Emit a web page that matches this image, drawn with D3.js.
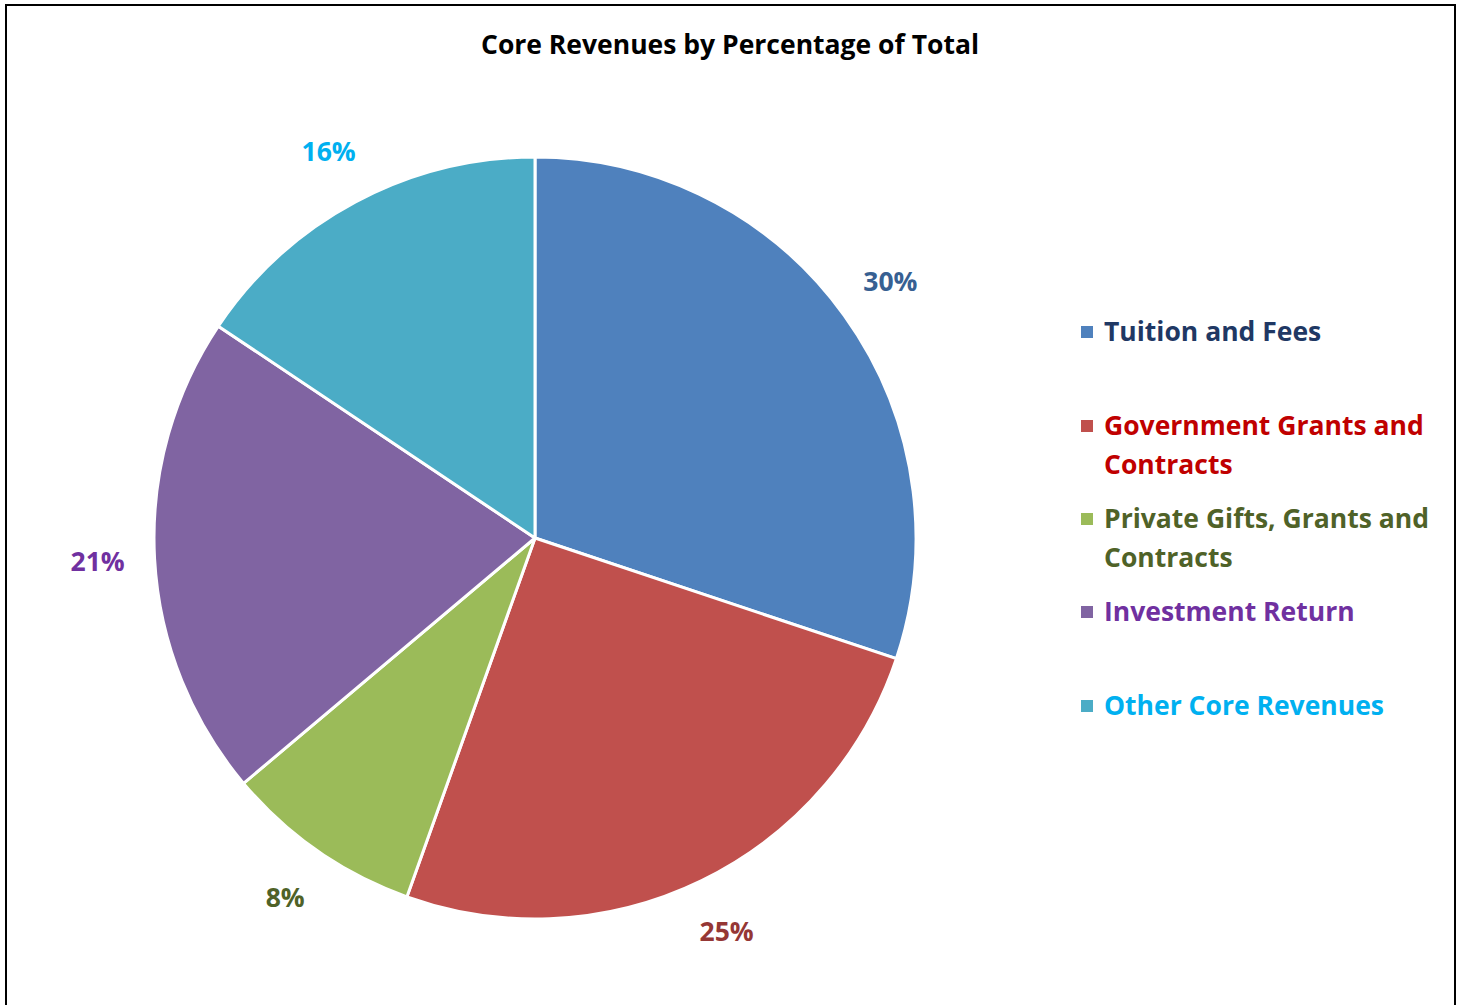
<!DOCTYPE html>
<html>
<head>
<meta charset="utf-8">
<script src="https://cdn.jsdelivr.net/npm/d3@7"></script>
<style>
  body { margin: 0; background: #fff; }
  svg text { font-family: "Open Sans", Lato, sans-serif; font-weight: bold; }
</style>
</head>
<body>
<div id="chart"></div>
<script>
/**
 * DATA
 * */
const categories = ["Tuition and Fees", "Government Grants and Contracts", "Private Gifts, Grants and Contracts", "Investment Return", "Other Core Revenues"];
const legendLines = [["Tuition and Fees"], ["Government Grants and", "Contracts"], ["Private Gifts, Grants and", "Contracts"], ["Investment Return"], ["Other Core Revenues"]];
const values = [30.1, 25.3, 8.4, 20.5, 15.6];
const sliceColors = ["#4F81BD", "#C0504D", "#9BBB59", "#8064A2", "#4BACC6"];
const labelColors = ["#376092", "#953735", "#4F6228", "#7030A0", "#00B0F0"];
const legendColors = ["#1F3864", "#C00000", "#4F6228", "#7030A0", "#00B0F0"];

/**
 * CONSTANTS
 * */
const width = 1461, height = 1005;
const cx = 535, cy = 538, radius = 381;
const fontSize = 26.5;

const svg = d3.select("#chart").append("svg")
  .attr("width", width)
  .attr("height", height);

// frame (no bottom edge visible in original)
svg.append("path")
  .attr("d", `M6,${height + 5} L6,5 L1455,5 L1455,${height + 5}`)
  .attr("fill", "none")
  .attr("stroke", "#000")
  .attr("stroke-width", 2);

svg.append("text")
  .attr("x", 730)
  .attr("y", 45)
  .attr("dy", "0.35em")
  .attr("text-anchor", "middle")
  .attr("font-size", fontSize)
  .attr("fill", "#000")
  .text("Core Revenues by Percentage of Total");

const pie = d3.pie().sort(null).value(d => d);
const arcs = pie(values);
const arc = d3.arc().innerRadius(0).outerRadius(radius);
const labelArc = d3.arc().innerRadius(438).outerRadius(438);
const total = d3.sum(values);

const g = svg.append("g").attr("transform", `translate(${cx},${cy})`);

g.selectAll("path.slice")
  .data(arcs)
  .join("path")
  .attr("class", "slice")
  .attr("d", arc)
  .attr("fill", (d, i) => sliceColors[i])
  .attr("stroke", "#fff")
  .attr("stroke-width", 3)
  .attr("stroke-linejoin", "round");

g.selectAll("text.pct")
  .data(arcs)
  .join("text")
  .attr("class", "pct")
  .attr("transform", d => `translate(${labelArc.centroid(d)})`)
  .attr("text-anchor", "middle")
  .attr("dy", "0.35em")
  .attr("font-size", fontSize)
  .attr("fill", (d, i) => labelColors[i])
  .text(d => Math.round(d.value / total * 100) + "%");

// legend
const legendY = [332, 426, 519, 612, 706];
const legend = svg.append("g");
const item = legend.selectAll("g")
  .data(categories)
  .join("g")
  .attr("transform", (d, i) => `translate(1081,${legendY[i]})`);

item.append("rect")
  .attr("x", 0)
  .attr("y", -6)
  .attr("width", 12)
  .attr("height", 12)
  .attr("fill", (d, i) => sliceColors[i]);

item.append("text")
  .attr("fill", (d, i) => legendColors[i])
  .attr("font-size", fontSize)
  .selectAll("tspan")
  .data((d, i) => legendLines[i])
  .join("tspan")
  .attr("x", 23)
  .attr("y", (d, j) => j * 39)
  .attr("dy", "0.35em")
  .text(d => d);
</script>
</body>
</html>
